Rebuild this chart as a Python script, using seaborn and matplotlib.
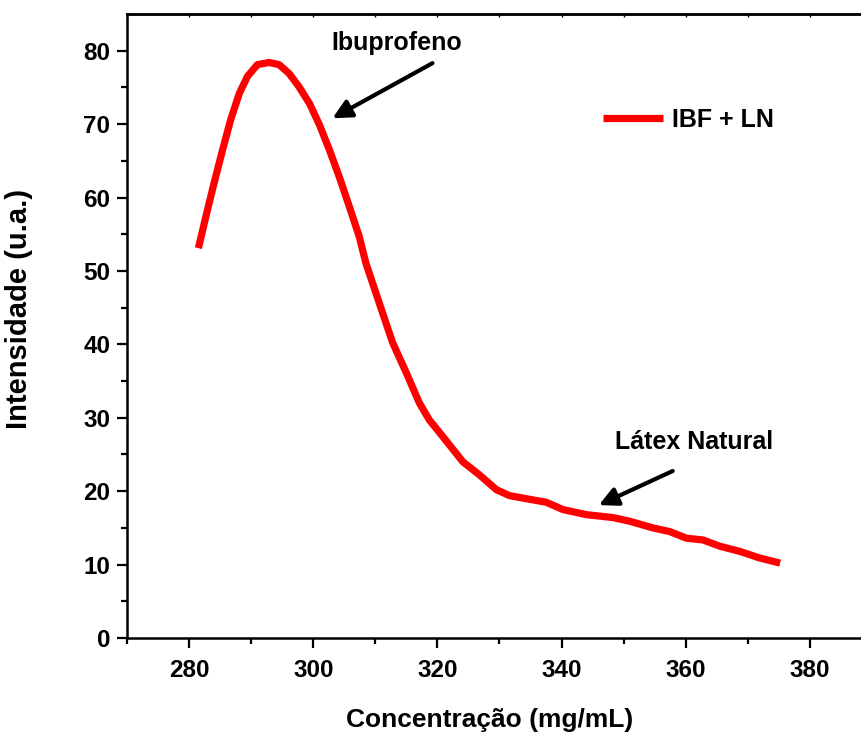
import numpy as np
import pandas as pd
import matplotlib
matplotlib.use("Agg")
import matplotlib.pyplot as plt
import seaborn as sns

# Measured emission curve
concentracao = [281.5, 282.7, 284.0, 285.4, 286.7, 288.1, 289.4, 291.0, 292.9, 294.5,
                296.1, 297.7, 299.4, 301.0, 302.6, 304.2, 305.8, 307.4, 308.5, 311.2,
                312.8, 315.0, 317.1, 318.7, 320.9, 324.1, 326.8, 329.5, 331.6, 334.8,
                337.5, 340.2, 344.0, 348.3, 351.0, 354.7, 357.4, 360.1, 362.8, 365.5,
                368.7, 371.9, 375.2]
intensidade = [53.1, 57.4, 61.9, 66.5, 70.6, 74.2, 76.5, 78.1, 78.4, 78.1,
               76.9, 75.1, 72.8, 69.9, 66.5, 62.8, 58.8, 54.7, 51.0, 44.2,
               40.2, 36.1, 32.0, 29.7, 27.4, 24.0, 22.2, 20.2, 19.4, 18.9,
               18.5, 17.5, 16.8, 16.4, 15.9, 15.0, 14.5, 13.6, 13.35, 12.5,
               11.8, 10.9, 10.2]
serie = "IBF + LN"

x_ticks = [280, 300, 320, 340, 360, 380]
y_ticks = [0, 10, 20, 30, 40, 50, 60, 70, 80]

df = pd.DataFrame({"Concentração": concentracao, "Intensidade": intensidade,
                   "Amostra": [serie] * len(concentracao)})

sns.set_theme(style="ticks")
plt.rcParams["font.family"] = ["Liberation Sans", "DejaVu Sans"]
plt.rcParams["font.weight"] = "bold"
plt.rcParams["axes.labelweight"] = "bold"
plt.rcParams["text.color"] = "black"
plt.rcParams["axes.labelcolor"] = "black"
plt.rcParams["xtick.color"] = "black"
plt.rcParams["ytick.color"] = "black"

fig = plt.figure(figsize=(8.62, 7.40), dpi=100)
ax = fig.add_axes([127 / 862, 102 / 740, 745 / 862, 624 / 740])

sns.lineplot(data=df, x="Concentração", y="Intensidade", hue="Amostra",
             palette=["#ff0000"], linewidth=5.2, ax=ax, sort=False,
             solid_joinstyle="round", solid_capstyle="butt")

ax.set_xlim(270, 390)
ax.set_ylim(0, 85)
ax.set_xticks(x_ticks)
ax.set_yticks(y_ticks)
ax.set_xticks(np.arange(270, 391, 10), minor=True)
ax.set_yticks(np.arange(5, 85, 10), minor=True)

for s in ["left", "bottom", "top", "right"]:
    ax.spines[s].set_linewidth(1.8)
    ax.spines[s].set_color("black")

ax.tick_params(which="major", direction="out", length=7, width=1.6, labelsize=17.5,
               pad=5, colors="black", labelcolor="black")
ax.tick_params(which="minor", direction="out", length=4, width=1.6, colors="black")
ax.tick_params(axis="x", which="major", pad=8)
for lbl in ax.get_xticklabels() + ax.get_yticklabels():
    lbl.set_fontweight("bold")

# small inward ticks along the top edge
top = ax.secondary_xaxis("top")
top.set_xticks(np.arange(270, 391, 10))
top.tick_params(direction="in", length=2, width=1.0, labeltop=False, colors="black")
top.spines["top"].set_linewidth(1.8)

ax.set_xlabel("Concentração (mg/mL)", fontsize=19, fontweight="bold", color="black")
ax.set_ylabel("Intensidade (u.a.)", fontsize=21, fontweight="bold", color="black")
ax.xaxis.set_label_coords((490 - 127) / 745, -(708 - 638) / 624)
ax.yaxis.set_label_coords(-(127 - 33) / 745, (638 - 309) / 624)

arrow = dict(arrowstyle="-|>", color="black", lw=3, mutation_scale=28,
             shrinkA=0, shrinkB=0)
ax.annotate("", xy=(303.1, 70.8), xytext=(319.2, 78.3), arrowprops=arrow)
ax.annotate("", xy=(346.0, 18.1), xytext=(357.9, 22.75), arrowprops=arrow)
ax.text(313.4, 81.0, "Ibuprofeno", fontsize=18, fontweight="bold",
        ha="center", va="center", color="black")
ax.text(361.3, 26.7, "Látex Natural", fontsize=18, fontweight="bold",
        ha="center", va="center", color="black")

leg = ax.legend(loc="center left", bbox_to_anchor=((603 - 127) / 745, (638 - 120) / 624),
                frameon=False, fontsize=18, handlelength=2.4, handletextpad=0.36,
                borderpad=0, borderaxespad=0, title=None)
for t in leg.get_texts():
    t.set_fontweight("bold")
    t.set_color("black")

fig.savefig("out.png", dpi=100)
